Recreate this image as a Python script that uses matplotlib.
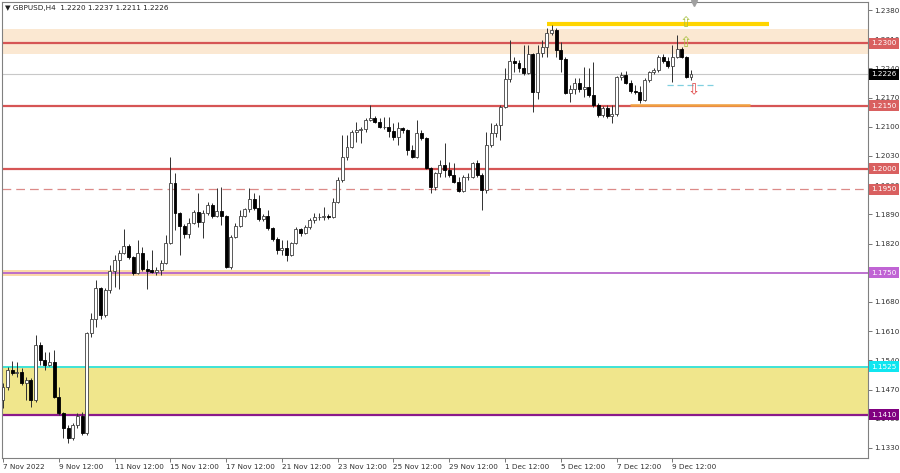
import numpy as np
import matplotlib
matplotlib.use("Agg")
import matplotlib.pyplot as plt
import matplotlib.transforms as mtransforms

# ---- 数据：GBPUSD H4 ----
opens = [1.1444, 1.1475, 1.1518, 1.1509, 1.1512, 1.1485, 1.1494, 1.1444, 1.1578, 1.1540,
         1.1530, 1.1535, 1.1451, 1.1413, 1.1379, 1.1353, 1.1386, 1.1406, 1.1365, 1.1605,
         1.1640, 1.1713, 1.1648, 1.1708, 1.1754, 1.1780, 1.1797, 1.1815, 1.1787, 1.1749,
         1.1797, 1.1758, 1.1756, 1.1752, 1.1756, 1.1773, 1.1821, 1.1965, 1.1893, 1.1862,
         1.1842, 1.1869, 1.1895, 1.1871, 1.1893, 1.1912, 1.1886, 1.1898, 1.1886, 1.1763,
         1.1835, 1.1862, 1.1886, 1.1902, 1.1926, 1.1905, 1.1878, 1.1886, 1.1857, 1.1830,
         1.1804, 1.1809, 1.1792, 1.1821, 1.1854, 1.1845, 1.1859, 1.1876, 1.1883, 1.1883,
         1.1886, 1.1884, 1.1919, 1.1972, 1.2027, 1.2051, 1.2087, 1.2092, 1.2094, 1.2116,
         1.2120, 1.2111, 1.2099, 1.2100, 1.2090, 1.2075, 1.2097, 1.2092, 1.2044, 1.2027,
         1.2085, 1.2073, 1.2001, 1.1955, 1.1989, 1.2008, 1.1996, 1.1984, 1.1967, 1.1946,
         1.1979, 1.1979, 1.2013, 1.1984, 1.1948, 1.2056, 1.2085, 1.2104, 1.2147, 1.2214,
         1.2258, 1.2253, 1.2241, 1.2229, 1.2274, 1.2183, 1.2277, 1.2291, 1.2325, 1.2332,
         1.2284, 1.2262, 1.2181, 1.2190, 1.2205, 1.2190, 1.2195, 1.2176, 1.2152, 1.2128,
         1.2145, 1.2126, 1.2130, 1.2219, 1.2224, 1.2205, 1.2186, 1.2183, 1.2164, 1.2212,
         1.2231, 1.2236, 1.2267, 1.2258, 1.2246, 1.2267, 1.2286, 1.2267, 1.2220]
highs = [1.1485, 1.1523, 1.1538, 1.1535, 1.1521, 1.1499, 1.1497, 1.1600, 1.1583, 1.1559,
         1.1559, 1.1566, 1.1475, 1.1415, 1.1384, 1.1391, 1.1413, 1.1415, 1.1608, 1.1653,
         1.1732, 1.1715, 1.1713, 1.1768, 1.1792, 1.1804, 1.1854, 1.1818, 1.1790, 1.1828,
         1.1811, 1.1780, 1.1804, 1.1763, 1.1780, 1.1840, 1.2027, 1.1989, 1.1895, 1.1866,
         1.1881, 1.1900, 1.1941, 1.1900, 1.1919, 1.1917, 1.1953, 1.1955, 1.1888, 1.1840,
         1.1869, 1.1900, 1.1905, 1.1953, 1.1941, 1.1936, 1.1890, 1.1900, 1.1859, 1.1835,
         1.1828, 1.1828, 1.1823, 1.1859, 1.1857, 1.1864, 1.1881, 1.1893, 1.1893, 1.1907,
         1.1890, 1.1929, 1.1979, 1.2080, 1.2080, 1.2092, 1.2111, 1.2099, 1.2121, 1.2152,
         1.2126, 1.2121, 1.2123, 1.2123, 1.2109, 1.2111, 1.2099, 1.2095, 1.2056, 1.2116,
         1.2092, 1.2075, 1.2003, 1.1991, 1.2020, 1.2061, 1.2015, 1.2013, 1.1979, 1.1984,
         1.1989, 1.2015, 1.2020, 1.1989, 1.2087, 1.2109, 1.2109, 1.2152, 1.2241, 1.2308,
         1.2267, 1.2260, 1.2296, 1.2296, 1.2277, 1.2296, 1.2308, 1.2337, 1.2344, 1.2337,
         1.2303, 1.2267, 1.2200, 1.2217, 1.2217, 1.2243, 1.2241, 1.2255, 1.2157, 1.2150,
         1.2152, 1.2152, 1.2222, 1.2231, 1.2234, 1.2212, 1.2200, 1.2198, 1.2217, 1.2234,
         1.2241, 1.2272, 1.2274, 1.2267, 1.2296, 1.2320, 1.2291, 1.2269, 1.2237]
lows = [1.1425, 1.1468, 1.1506, 1.1499, 1.1480, 1.1444, 1.1427, 1.1440, 1.1528, 1.1516,
        1.1526, 1.1449, 1.1408, 1.1355, 1.1341, 1.1350, 1.1379, 1.1362, 1.1362, 1.1595,
        1.1620, 1.1640, 1.1645, 1.1701, 1.1715, 1.1710, 1.1794, 1.1782, 1.1744, 1.1746,
        1.1754, 1.1710, 1.1749, 1.1744, 1.1744, 1.1770, 1.1818, 1.1852, 1.1792, 1.1833,
        1.1833, 1.1866, 1.1859, 1.1833, 1.1888, 1.1881, 1.1883, 1.1864, 1.1761, 1.1760,
        1.1833, 1.1859, 1.1883, 1.1895, 1.1900, 1.1874, 1.1874, 1.1852, 1.1826, 1.1795,
        1.1792, 1.1778, 1.1790, 1.1818, 1.1838, 1.1842, 1.1854, 1.1869, 1.1876, 1.1876,
        1.1878, 1.1881, 1.1917, 1.1967, 1.2020, 1.2049, 1.2063, 1.2061, 1.2087, 1.2113,
        1.2109, 1.2097, 1.2094, 1.2075, 1.2068, 1.2056, 1.2085, 1.2032, 1.2025, 1.2025,
        1.2068, 1.1998, 1.1941, 1.1948, 1.1979, 1.1979, 1.1979, 1.1965, 1.1943, 1.1943,
        1.1972, 1.1977, 1.1979, 1.1900, 1.1941, 1.2051, 1.2075, 1.2068, 1.2144, 1.2207,
        1.2231, 1.2231, 1.2224, 1.2226, 1.2135, 1.2166, 1.2267, 1.2267, 1.2320, 1.2267,
        1.2231, 1.2178, 1.2159, 1.2178, 1.2183, 1.2171, 1.2171, 1.2147, 1.2123, 1.2123,
        1.2121, 1.2109, 1.2126, 1.2212, 1.2202, 1.2181, 1.2178, 1.2157, 1.2162, 1.2207,
        1.2226, 1.2231, 1.2253, 1.2241, 1.2207, 1.2265, 1.2265, 1.2217, 1.2211]
closes = [1.1475, 1.1518, 1.1509, 1.1511, 1.1485, 1.1494, 1.1444, 1.1578, 1.1540, 1.1530,
          1.1535, 1.1451, 1.1413, 1.1379, 1.1353, 1.1386, 1.1406, 1.1365, 1.1605, 1.1640,
          1.1713, 1.1648, 1.1708, 1.1754, 1.1780, 1.1797, 1.1815, 1.1787, 1.1749, 1.1797,
          1.1758, 1.1754, 1.1752, 1.1756, 1.1773, 1.1821, 1.1965, 1.1893, 1.1862, 1.1842,
          1.1869, 1.1895, 1.1871, 1.1893, 1.1912, 1.1886, 1.1898, 1.1886, 1.1763, 1.1835,
          1.1862, 1.1886, 1.1902, 1.1926, 1.1905, 1.1878, 1.1886, 1.1857, 1.1830, 1.1804,
          1.1809, 1.1792, 1.1821, 1.1854, 1.1845, 1.1859, 1.1876, 1.1883, 1.1883, 1.1886,
          1.1884, 1.1919, 1.1972, 1.2027, 1.2051, 1.2087, 1.2092, 1.2094, 1.2116, 1.2120,
          1.2111, 1.2099, 1.2100, 1.2090, 1.2075, 1.2097, 1.2092, 1.2044, 1.2027, 1.2085,
          1.2073, 1.2001, 1.1955, 1.1989, 1.2008, 1.1996, 1.1984, 1.1967, 1.1946, 1.1979,
          1.1979, 1.2013, 1.1984, 1.1948, 1.2056, 1.2085, 1.2104, 1.2147, 1.2214, 1.2258,
          1.2253, 1.2241, 1.2229, 1.2274, 1.2183, 1.2277, 1.2291, 1.2325, 1.2332, 1.2284,
          1.2262, 1.2181, 1.2190, 1.2205, 1.2190, 1.2195, 1.2176, 1.2152, 1.2128, 1.2145,
          1.2126, 1.2130, 1.2219, 1.2224, 1.2205, 1.2186, 1.2183, 1.2164, 1.2212, 1.2231,
          1.2236, 1.2267, 1.2258, 1.2246, 1.2267, 1.2286, 1.2267, 1.2219, 1.2226]

date_labels = ["7 Nov 2022", "9 Nov 12:00", "11 Nov 12:00", "15 Nov 12:00", "17 Nov 12:00",
               "21 Nov 12:00", "23 Nov 12:00", "25 Nov 12:00", "29 Nov 12:00", "1 Dec 12:00",
               "5 Dec 12:00", "7 Dec 12:00", "9 Dec 12:00"]
date_bars = [0, 12, 24, 36, 48, 60, 72, 84, 96, 108, 120, 132, 144]

price_ticks = [1.2380, 1.2310, 1.2240, 1.2170, 1.2100, 1.2030, 1.1960, 1.1890, 1.1820,
               1.1750, 1.1680, 1.1610, 1.1540, 1.1470, 1.1400, 1.1330]

# 水平位
red_levels = [1.2300, 1.2150, 1.2000]
dashed_level = 1.1950
orchid_level = 1.1750
cyan_level = 1.1525
purple_level = 1.1410
last_price = 1.2226
top_zone = (1.2274, 1.2334)
yellow_zone = (1.1410, 1.1525)
orange_zone = (1.1743, 1.1757)
high_line = 1.2346
support_line = 1.2153
target_line = 1.2200
arrow_up = [1.2351, 1.2303]
arrow_down = 1.2188

header = "GBPUSD,H4  1.2220 1.2237 1.2211 1.2226"

############################################
# 画布
############################################
W, H = 900, 473
fig = plt.figure(figsize=(W / 100, H / 100), dpi=100)
fig.patch.set_facecolor("white")
ax = fig.add_axes([2 / W, (H - 458) / H, 866 / W, 456 / H])

n = len(opens)
x = np.arange(n)
step = (691 - 3) / (n - 1)          # 每根K线的像素宽度
ax.set_xlim(-1 / step, (n - 1) + (868 - 691) / step)
ax.set_ylim(1.13059, 1.23992)

# 区域
ax.axhspan(*top_zone, color="#fbe8d2", zorder=0, lw=0)
ax.axhspan(*yellow_zone, color="#f0e68c", zorder=0, lw=0)
ax.fill_between([-1, 104.8], orange_zone[0], orange_zone[1], color="#fbd9a8", lw=0, zorder=0)

# 水平线
ax.axhline(last_price, color="#c8c8c8", lw=0.8, zorder=1)
for lv in red_levels:
    ax.axhline(lv, color="#d65555", lw=1.6, zorder=1)
ax.axhline(dashed_level, color="#dc8a88", lw=0.9, dashes=(7, 4), zorder=1)
ax.axhline(orchid_level, color="#b866cc", lw=1.3, zorder=1)
ax.axhline(cyan_level, color="#3fe3d6", lw=1.4, zorder=1)
ax.axhline(purple_level, color="#8a1a8a", lw=1.6, zorder=1)

ax.plot([117.0, 164.8], [high_line] * 2, color="#ffd500", lw=3.0, solid_capstyle="butt", zorder=3)
ax.plot([134.9, 160.7], [support_line] * 2, color="#f0a040", lw=1.8, solid_capstyle="butt", zorder=3)
ax.plot([142.8, 152.7], [target_line] * 2, color="#80d0e0", lw=0.9, dashes=(5, 3), zorder=3)

# K线
o = np.array(opens); h = np.array(highs); l = np.array(lows); c = np.array(closes)
up = c >= o
ax.vlines(x, l, h, color="#303030", lw=0.7, zorder=4)
bw = 0.64
body_lo = np.minimum(o, c)
body_h = np.maximum(np.abs(c - o), 0.00006)
ax.bar(x[up], body_h[up], bottom=body_lo[up], width=bw, color="white",
       edgecolor="#404040", lw=0.6, zorder=5)
ax.bar(x[~up], body_h[~up], bottom=body_lo[~up], width=bw, color="black",
       edgecolor="black", lw=0.6, zorder=5)

# 箭头标记
for yv in arrow_up:
    ax.text(146.9, yv, "\u21e7", color="#a8c040", fontsize=10.5, ha="center", va="center", zorder=6)
ax.text(148.6, arrow_down, "\u21e9", color="#e04848", fontsize=10.5, ha="center", va="center", zorder=6)
ax.plot([148.6], [1.23975], marker="v", ms=4, color="#a0a0a0", clip_on=False, zorder=6)

# 坐标轴
for s in ax.spines.values():
    s.set_color("#808080")
    s.set_linewidth(0.8)
ax.yaxis.tick_right()
ax.set_yticks(price_ticks)
ax.set_yticklabels([f"{p:.4f}" for p in price_ticks])
ax.tick_params(axis="y", direction="out", length=3, width=0.6, color="#606060",
               labelsize=5.2, labelcolor="#303030", pad=1.5)
ax.set_xticks(date_bars)
ax.set_xticklabels(date_labels, ha="left")
ax.tick_params(axis="x", direction="out", length=3, width=0.6, color="#606060",
               labelsize=5.2, labelcolor="#303030", pad=1.5)

# 右侧价格标签
trans = mtransforms.blended_transform_factory(ax.transAxes, ax.transData)
tags = [(1.2300, "#d96060"), (1.2150, "#d96060"), (1.2000, "#d96060"), (1.1950, "#d96060"),
        (orchid_level, "#c064d4"), (cyan_level, "#10e6f0"), (purple_level, "#800080"),
        (last_price, "#000000")]
for lv, col in tags:
    ax.text(1.0035, lv, f"{lv:.4f}", transform=trans, fontsize=5.2, color="white",
            ha="left", va="center", clip_on=False, zorder=10,
            bbox=dict(boxstyle="square,pad=0.35", fc=col, ec="none"))

# 标题
fig.text(5 / W, 1 - 8 / H, "\u25bc " + header, fontsize=5.2, color="#202020",
         ha="left", va="center")

fig.savefig("out.png", dpi=100, facecolor="white")
